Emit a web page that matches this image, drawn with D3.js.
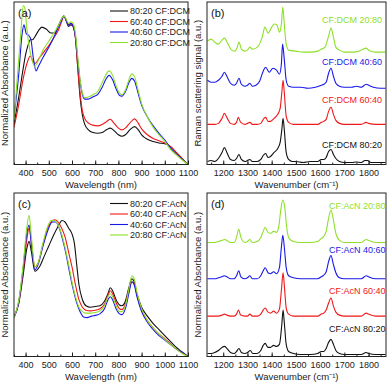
<!DOCTYPE html>
<html>
<head>
<meta charset="utf-8">
<script src="https://cdn.jsdelivr.net/npm/d3@7"></script>
<style>
body { margin:0; background:#fff; }
svg { display:block; font-family:"Liberation Sans", Arial, sans-serif; }
.tick text { font-size:9px; fill:#222; }
.domain { display:none; }
</style>
</head>
<body>
<div id="chart"></div>
<script>
var width = 389;
var height = 384;

// ---- absorbance, panel (a), CF:DCM ----
var dcm8020 = [[350,0.27],[370,0.45],[390,0.65],[400,0.74],[410,0.8],[420,0.84],[430,0.84],[440,0.86],[455,0.9],[470,0.925],[490,0.91],[510,0.885],[525,0.885],[540,0.93],[555,0.98],[565,1.0],[575,0.97],[585,0.93],[595,0.94],[605,0.93],[615,0.85],[625,0.65],[635,0.45],[645,0.33],[655,0.27],[670,0.235],[690,0.215],[710,0.21],[730,0.215],[750,0.235],[765,0.245],[780,0.23],[800,0.2],[815,0.19],[830,0.2],[850,0.235],[870,0.255],[885,0.235],[900,0.2],[925,0.17],[950,0.155],[975,0.145],[1000,0.14],[1025,0.12],[1050,0.08],[1075,0.04],[1100,0]];
var dcm6040 = [[350,0.25],[370,0.4],[390,0.58],[410,0.7],[420,0.73],[430,0.7],[440,0.68],[460,0.72],[480,0.76],[500,0.8],[520,0.85],[540,0.9],[555,0.96],[565,1.0],[575,0.97],[585,0.94],[595,0.95],[605,0.93],[615,0.85],[625,0.65],[635,0.48],[645,0.36],[655,0.31],[670,0.28],[690,0.265],[710,0.26],[730,0.27],[750,0.29],[765,0.305],[780,0.28],[800,0.245],[815,0.233],[830,0.245],[850,0.28],[870,0.307],[885,0.28],[900,0.24],[925,0.2],[950,0.175],[975,0.16],[1000,0.145],[1025,0.12],[1050,0.08],[1075,0.04],[1100,0]];
var dcm4060 = [[350,0.32],[370,0.6],[385,0.88],[393,0.94],[403,0.88],[413,0.87],[423,0.84],[433,0.72],[445,0.63],[455,0.66],[475,0.72],[500,0.79],[520,0.85],[540,0.92],[555,0.97],[565,1.0],[575,0.97],[585,0.94],[595,0.95],[605,0.93],[615,0.86],[625,0.7],[635,0.56],[645,0.47],[655,0.44],[670,0.44],[690,0.455],[710,0.47],[730,0.52],[745,0.57],[760,0.6],[775,0.57],[790,0.51],[805,0.465],[815,0.46],[830,0.49],[845,0.55],[858,0.58],[870,0.56],[885,0.48],[900,0.4],[925,0.32],[950,0.26],[975,0.21],[1000,0.165],[1025,0.11],[1050,0.07],[1075,0.035],[1100,0]];
var dcm2080 = [[350,0.3],[365,0.6],[380,0.9],[390,1.07],[397,1.05],[405,0.92],[415,0.8],[425,0.72],[440,0.66],[455,0.7],[475,0.77],[500,0.83],[520,0.88],[540,0.93],[555,0.98],[565,1.0],[575,0.98],[585,0.95],[595,0.96],[605,0.95],[615,0.88],[625,0.72],[635,0.57],[645,0.48],[655,0.45],[670,0.455],[690,0.47],[710,0.49],[730,0.55],[745,0.6],[760,0.63],[775,0.6],[790,0.53],[805,0.48],[815,0.47],[830,0.5],[845,0.57],[858,0.61],[870,0.59],[885,0.5],[900,0.41],[925,0.32],[950,0.25],[975,0.2],[1000,0.155],[1025,0.1],[1050,0.065],[1075,0.03],[1100,0]];

// ---- absorbance, panel (c), CF:AcN ----
var acn8020 = [[350,0.27],[370,0.35],[390,0.55],[405,0.72],[415,0.77],[425,0.7],[440,0.57],[460,0.6],[480,0.67],[500,0.74],[520,0.81],[540,0.87],[557,0.91],[570,0.9],[585,0.86],[600,0.82],[610,0.76],[620,0.62],[630,0.48],[645,0.38],[660,0.34],[680,0.33],[700,0.335],[720,0.34],[740,0.37],[755,0.42],[765,0.46],[775,0.44],[790,0.38],[805,0.345],[815,0.34],[830,0.37],[845,0.46],[858,0.52],[868,0.5],[880,0.42],[900,0.33],[925,0.27],[950,0.22],[975,0.18],[1000,0.14],[1025,0.1],[1050,0.06],[1075,0.03],[1100,0]];
var acn6040 = [[350,0.26],[370,0.36],[390,0.58],[405,0.78],[415,0.86],[425,0.76],[440,0.6],[455,0.63],[475,0.75],[495,0.86],[510,0.9],[525,0.915],[540,0.9],[555,0.86],[570,0.8],[585,0.7],[600,0.6],[615,0.48],[630,0.38],[645,0.33],[660,0.31],[680,0.305],[700,0.31],[720,0.32],[740,0.35],[755,0.41],[765,0.44],[775,0.42],[790,0.36],[805,0.32],[815,0.315],[830,0.35],[845,0.44],[858,0.5],[868,0.49],[880,0.41],[900,0.31],[925,0.24],[950,0.19],[975,0.15],[1000,0.12],[1025,0.085],[1050,0.05],[1075,0.025],[1100,0]];
var acn4060 = [[350,0.26],[370,0.36],[390,0.6],[405,0.82],[415,0.88],[425,0.75],[440,0.58],[455,0.62],[475,0.74],[495,0.84],[515,0.9],[530,0.9],[545,0.86],[560,0.78],[575,0.68],[590,0.56],[605,0.45],[620,0.36],[635,0.3],[650,0.265],[665,0.26],[685,0.27],[700,0.275],[720,0.285],[740,0.32],[755,0.38],[765,0.4],[775,0.38],[790,0.32],[805,0.285],[815,0.28],[830,0.32],[845,0.42],[858,0.5],[868,0.48],[880,0.4],[900,0.3],[925,0.23],[950,0.18],[975,0.14],[1000,0.11],[1025,0.08],[1050,0.05],[1075,0.025],[1100,0]];
var acn2080 = [[350,0.26],[370,0.37],[390,0.62],[405,0.86],[415,0.945],[425,0.8],[440,0.6],[455,0.63],[475,0.76],[495,0.87],[510,0.91],[525,0.91],[540,0.88],[555,0.82],[570,0.73],[585,0.62],[600,0.5],[615,0.4],[630,0.33],[645,0.3],[660,0.29],[680,0.29],[700,0.295],[720,0.305],[740,0.34],[755,0.4],[765,0.42],[775,0.4],[790,0.34],[805,0.3],[815,0.3],[830,0.34],[845,0.45],[858,0.54],[868,0.52],[880,0.43],[900,0.32],[925,0.24],[950,0.19],[975,0.15],[1000,0.115],[1025,0.08],[1050,0.05],[1075,0.02],[1100,0]];

// ---- Raman, panel (b), CF:DCM (already offset) ----
var ramDcm8020 = [[1135,3],[1150,4],[1165,3],[1180,6],[1195,12],[1205,17],[1215,12],[1230,5],[1245,4],[1255,6],[1265,10],[1275,5],[1290,3],[1300,4],[1310,5],[1320,3],[1340,3],[1355,5],[1365,9],[1375,11],[1385,7],[1395,8],[1410,12],[1425,16],[1435,22],[1442,35],[1447,46],[1452,35],[1460,12],[1470,5],[1485,3],[1500,3],[1530,2],[1560,3],[1590,3],[1605,5],[1615,5],[1625,7],[1635,13],[1645,15],[1655,10],[1665,6],[1680,3],[1700,2],[1730,2],[1750,2.5],[1770,2],[1785,4],[1795,4],[1810,2],[1840,2],[1870,2]];
var ramDcm6040 = [[1135,40],[1150,40],[1165,40],[1180,41],[1195,46],[1205,51],[1215,47],[1230,41],[1245,40],[1255,42],[1262,47],[1272,42],[1290,40],[1300,41],[1310,42],[1320,40],[1340,40],[1355,41],[1368,46],[1375,47],[1385,43],[1395,43],[1410,46],[1425,50],[1435,56],[1442,72],[1447,84],[1452,72],[1460,48],[1470,42],[1490,40],[1520,40],[1560,40],[1590,40],[1605,42],[1615,43],[1625,45],[1635,53],[1645,57],[1655,50],[1665,44],[1680,41],[1700,40],[1740,40],[1770,40],[1790,42],[1800,41],[1830,40],[1870,40]];
var ramDcm4060 = [[1135,84],[1150,82],[1165,82],[1180,84],[1195,88],[1205,92],[1215,88],[1230,81],[1245,79],[1255,81],[1265,86],[1275,80],[1290,78],[1300,79],[1310,81],[1320,78],[1335,79],[1350,83],[1365,93],[1375,97],[1390,92],[1405,96],[1420,94],[1432,90],[1440,100],[1445,120],[1452,105],[1460,84],[1470,78],[1490,77],[1520,77],[1550,76],[1580,77],[1605,79],[1615,80],[1625,82],[1635,91],[1645,96],[1655,88],[1665,81],[1680,78],[1700,77],[1730,77],[1750,78],[1770,77],[1790,80],[1800,79],[1820,77],[1850,76],[1870,76]];
var ramDcm2080 = [[1135,123],[1150,125],[1165,122],[1180,120],[1195,124],[1205,126],[1220,120],[1235,114],[1248,113],[1258,117],[1265,122],[1275,115],[1290,113],[1300,114],[1310,117],[1320,115],[1335,116],[1350,120],[1362,128],[1372,137],[1385,131],[1398,136],[1410,140],[1422,139],[1432,132],[1440,140],[1446,157],[1452,140],[1460,120],[1470,114],[1500,113],[1530,112],[1560,112],[1590,113],[1605,115],[1620,117],[1635,128],[1645,136],[1655,127],[1665,117],[1680,114],[1700,112],[1740,112],[1760,113],[1790,116],[1800,114],[1830,112],[1870,112]];

// ---- Raman, panel (d), CF:AcN (already offset) ----
var ramAcn8020 = [[1135,3],[1150,3],[1165,4],[1180,6],[1195,9],[1205,10],[1215,8],[1230,4],[1245,3],[1255,5],[1265,8],[1275,4],[1290,3],[1300,4],[1312,6],[1322,3],[1340,3],[1355,6],[1365,11],[1373,13],[1385,9],[1395,9],[1408,11],[1420,10],[1432,12],[1442,32],[1447,46],[1452,34],[1460,12],[1470,5],[1490,3],[1520,2],[1560,2],[1590,3],[1605,5],[1615,5],[1625,8],[1635,14],[1645,17],[1655,12],[1665,6],[1680,3],[1700,2],[1740,2],[1770,2],[1790,4],[1800,3],[1830,2],[1870,2]];
var ramAcn6040 = [[1135,40],[1150,40],[1165,40],[1180,40],[1195,41],[1205,42],[1215,41],[1230,40],[1245,40],[1255,42],[1263,46],[1272,41],[1290,40],[1300,40],[1310,42],[1320,40],[1340,40],[1355,42],[1365,46],[1373,48],[1385,44],[1395,43],[1408,45],[1420,43],[1432,47],[1441,68],[1447,83],[1453,68],[1460,48],[1470,42],[1490,40],[1520,40],[1560,40],[1590,40],[1605,42],[1615,43],[1625,46],[1635,53],[1645,58],[1655,50],[1665,44],[1680,41],[1700,40],[1740,40],[1770,40],[1790,43],[1800,42],[1830,40],[1870,40]];
var ramAcn4060 = [[1135,77],[1150,77],[1165,77],[1180,78],[1195,79],[1205,80],[1215,79],[1230,77],[1245,77],[1255,80],[1264,85],[1273,79],[1290,77],[1300,78],[1310,80],[1320,77],[1340,77],[1355,80],[1365,85],[1373,88],[1385,83],[1395,82],[1408,84],[1420,82],[1432,88],[1440,108],[1446,120],[1453,106],[1460,88],[1470,80],[1490,78],[1520,77],[1560,77],[1590,77],[1605,79],[1612,80],[1625,84],[1635,94],[1645,100],[1655,91],[1665,83],[1680,78],[1700,77],[1740,77],[1770,77],[1790,80],[1800,79],[1830,77],[1870,77]];
var ramAcn2080 = [[1135,113],[1150,113],[1165,113],[1180,114],[1195,115],[1205,116],[1215,115],[1230,113],[1245,113],[1255,118],[1264,126],[1273,118],[1290,113],[1300,114],[1310,116],[1320,113],[1340,114],[1355,118],[1365,124],[1373,128],[1385,123],[1395,122],[1408,124],[1420,123],[1430,130],[1438,146],[1446,155],[1454,148],[1462,128],[1472,117],[1490,114],[1520,113],[1560,113],[1590,114],[1605,117],[1612,118],[1625,124],[1635,137],[1645,145],[1655,135],[1665,122],[1680,115],[1700,113],[1740,113],[1770,113],[1790,116],[1800,115],[1830,113],[1870,113]];

var absTicks = [400, 500, 600, 700, 800, 900, 1000, 1100];
var ramTicks = [1200, 1300, 1400, 1500, 1600, 1700, 1800];

var colors = ["#111111", "#f01818", "#1818e8", "#8ee02a"];
var dcmNames = ["80:20 CF:DCM", "60:40 CF:DCM", "40:60 CF:DCM", "20:80 CF:DCM"];
var acnNames = ["80:20 CF:AcN", "60:40 CF:AcN", "40:60 CF:AcN", "20:80 CF:AcN"];
var dcmTags = ["CF:DCM 80:20", "CF:DCM 60:40", "CF:DCM 40:60", "CF:DCM 20:80"];
var acnTags = ["CF:AcN 80:20", "CF:AcN 60:40", "CF:AcN 40:60", "CF:AcN 20:80"];

var svg = d3.select("#chart").append("svg")
    .attr("width", width)
    .attr("height", height);

var clipId = 0;

function drawPanel(p) {
    var x = d3.scaleLinear().domain(p.xDomain).range([p.left, p.right]);
    var y = d3.scaleLinear().domain(p.yDomain).range([p.bottom, p.top]);
    var g = svg.append("g");

    clipId++;
    svg.append("clipPath").attr("id", "clip" + clipId)
        .append("rect")
        .attr("x", p.left).attr("y", p.top)
        .attr("width", p.right - p.left).attr("height", p.bottom - p.top);

    var line = d3.line()
        .x(function(d) { return x(d[0]); })
        .y(function(d) { return y(d[1]); })
        .curve(d3.curveMonotoneX);

    g.append("g").attr("clip-path", "url(#clip" + clipId + ")")
        .selectAll("path")
        .data(p.series)
        .enter()
        .append("path")
        .attr("d", line)
        .attr("fill", "none")
        .attr("stroke", function(d, i) { return colors[i]; })
        .attr("stroke-width", 1.1);

    // minor ticks
    g.append("g")
        .attr("transform", "translate(0," + p.bottom + ")")
        .call(d3.axisBottom(x).tickValues(p.minor).tickSizeInner(-2).tickSizeOuter(0).tickFormat(""));
    // major ticks
    g.append("g")
        .attr("transform", "translate(0," + p.bottom + ")")
        .call(d3.axisBottom(x).tickValues(p.ticks).tickSizeInner(-4).tickSizeOuter(0)
            .tickPadding(5).tickFormat(d3.format("d")));
    g.selectAll(".tick line").attr("stroke", "#222");

    // frame
    g.append("rect")
        .attr("x", p.left).attr("y", p.top)
        .attr("width", p.right - p.left).attr("height", p.bottom - p.top)
        .attr("fill", "none").attr("stroke", "#222").attr("stroke-width", 1);

    g.append("text")
        .attr("x", (p.left + p.right) / 2)
        .attr("y", p.bottom + 23.5)
        .attr("text-anchor", "middle")
        .style("font-size", "9.5px")
        .attr("fill", "#222")
        .text(p.xTitle);

    g.append("text")
        .attr("transform", "translate(" + (p.left - 6) + "," + ((p.top + p.bottom) / 2) + ") rotate(-90)")
        .attr("text-anchor", "middle")
        .style("font-size", "9.5px")
        .attr("fill", "#222")
        .text(p.yTitle);

    g.append("text")
        .attr("x", p.left + 4)
        .attr("y", p.top + 15)
        .style("font-size", "11px")
        .attr("fill", "#111")
        .text(p.tag);

    return { g: g, x: x, y: y };
}

function drawLegend(g, names, x0, y0) {
    names.forEach(function(n, i) {
        g.append("line")
            .attr("x1", x0).attr("x2", x0 + 18)
            .attr("y1", y0 + i * 10.5).attr("y2", y0 + i * 10.5)
            .attr("stroke", colors[i]).attr("stroke-width", 1.1);
        g.append("text")
            .attr("x", x0 + 20)
            .attr("y", y0 + i * 10.5 + 3.2)
            .style("font-size", "9px")
            .attr("fill", "#222")
            .text(n);
    });
}

function drawTags(g, names, xPos, yPos) {
    names.forEach(function(n, i) {
        g.append("text")
            .attr("x", xPos)
            .attr("y", yPos[i] + 3.2)
            .style("font-size", "9px")
            .attr("fill", colors[i])
            .text(n);
    });
}

var pa = drawPanel({
    left: 14, right: 188, top: 2, bottom: 164.5,
    xDomain: [350, 1100], yDomain: [0, 1.094],
    ticks: absTicks, minor: d3.range(350, 1101, 50),
    series: [dcm8020, dcm6040, dcm4060, dcm2080],
    xTitle: "Wavelength (nm)", yTitle: "Normalized Absorbance (a.u.)", tag: "(a)"
});
drawLegend(pa.g, dcmNames, 110, 11);

var pb = drawPanel({
    left: 207, right: 386, top: 2, bottom: 164.5,
    xDomain: [1133, 1872], yDomain: [0, 162],
    ticks: ramTicks, minor: d3.range(1150, 1851, 50),
    series: [ramDcm8020, ramDcm6040, ramDcm4060, ramDcm2080],
    xTitle: "Wavenumber (cm\u207B\u00B9)", yTitle: "Raman scattering signal (a.u.)", tag: "(b)"
});
drawTags(pb.g, dcmTags, 322, [145, 100, 62, 20]);

var pc = drawPanel({
    left: 14, right: 188, top: 193, bottom: 356.5,
    xDomain: [350, 1100], yDomain: [0, 1.094],
    ticks: absTicks, minor: d3.range(350, 1101, 50),
    series: [acn8020, acn6040, acn4060, acn2080],
    xTitle: "Wavelength (nm)", yTitle: "Normalized Absorbance (a.u.)", tag: "(c)"
});
drawLegend(pc.g, acnNames, 110, 203.5);

var pd = drawPanel({
    left: 207, right: 386, top: 193, bottom: 356.5,
    xDomain: [1133, 1872], yDomain: [0, 162],
    ticks: ramTicks, minor: d3.range(1150, 1851, 50),
    series: [ramAcn8020, ramAcn6040, ramAcn4060, ramAcn2080],
    xTitle: "Wavenumber (cm\u207B\u00B9)", yTitle: "Normalized Absorbance (a.u.)", tag: "(d)"
});
drawTags(pd.g, acnTags, 329, [329, 291, 250, 206]);
</script>
</body>
</html>
